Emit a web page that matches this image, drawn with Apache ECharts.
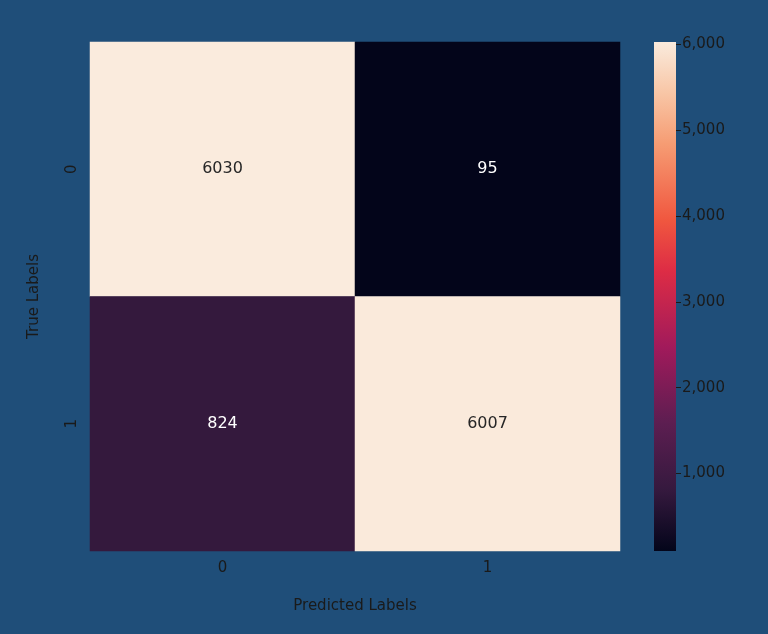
<!DOCTYPE html>
<html>
<head>
<meta charset="utf-8">
<script src="https://cdn.jsdelivr.net/npm/echarts@6/dist/echarts.min.js"></script>
<style>html,body{margin:0;background:#1f4e79;}#c{width:768px;height:634px;}</style>
</head>
<body>
<div id="c"></div>
<script>
// 混淆矩阵数据
var predLabels = ['0', '1'];
var trueLabels = ['0', '1'];
var matrix = [[6030, 95], [824, 6007]];
var barTicks = [1000, 2000, 3000, 4000, 5000, 6000];

var vmin = 95, vmax = 6030;
var stops = [
    [0, '#03051a'], [0.12, '#35193e'], [0.25, '#5c1e51'], [0.4, '#a11a5b'],
    [0.55, '#dd2c45'], [0.65, '#f0573f'], [0.8, '#f69c73'], [0.9, '#f8c6a6'], [1, '#faebdd']
];

var cells = [];
for (var i = 0; i < trueLabels.length; i++) {
    for (var j = 0; j < predLabels.length; j++) {
        cells.push([j, i, matrix[i][j]]);
    }
}

var txt = '#1a1a1a';
var font = 'DejaVu Sans';
var myChart = echarts.init(document.getElementById('c'));
option = {
    backgroundColor: '#1f4e79',
    textStyle: {fontFamily: font},
    grid: [
        {left: 90, right: 148, top: 42, bottom: 83},
        {left: 654, width: 22, top: 42, bottom: 83}
    ],
    xAxis: [{
        type: 'category', data: predLabels, gridIndex: 0,
        name: 'Predicted Labels', nameLocation: 'middle', nameGap: 48,
        nameTextStyle: {color: txt, fontSize: 15, fontFamily: font},
        axisLine: {show: false}, splitLine: {show: false},
        axisTick: {alignWithLabel: true, length: 5, lineStyle: {color: txt}},
        axisLabel: {color: txt, fontSize: 15, margin: 10}
    }, {
        type: 'category', data: [''], gridIndex: 1, show: false
    }],
    yAxis: [{
        type: 'category', data: trueLabels, inverse: true, gridIndex: 0,
        name: 'True Labels', nameLocation: 'middle', nameGap: 48, nameRotate: 90,
        nameTextStyle: {color: txt, fontSize: 15, fontFamily: font},
        axisLine: {show: false}, splitLine: {show: false},
        axisTick: {alignWithLabel: true, length: 5, lineStyle: {color: txt}},
        axisLabel: {color: txt, fontSize: 15, rotate: 90, margin: 10}
    }, {
        type: 'value', gridIndex: 1, position: 'right', min: vmin, max: vmax,
        axisLine: {show: false}, splitLine: {show: false},
        axisTick: {show: true, length: 5, customValues: barTicks, lineStyle: {color: txt}},
        axisLabel: {color: txt, fontSize: 15, margin: 6, customValues: barTicks}
    }],
    visualMap: {
        show: false, min: vmin, max: vmax, seriesIndex: 0, dimension: 2,
        inRange: {color: stops.map(function (s) { return s[1]; })}
    },
    series: [{
        type: 'heatmap', data: cells, xAxisIndex: 0, yAxisIndex: 0,
        label: {
            show: true, fontSize: 16, fontFamily: font,
            color: function () { return '#fff'; },
            formatter: function (p) { return p.value[2]; },
            rich: {}
        },
        itemStyle: {borderWidth: 0}
    }, {
        type: 'bar', xAxisIndex: 1, yAxisIndex: 1, data: [vmax], barWidth: '100%',
        silent: true,
        itemStyle: {
            color: new echarts.graphic.LinearGradient(0, 1, 0, 0,
                stops.map(function (s) { return {offset: s[0], color: s[1]}; }))
        }
    }]
};
// 浅色格子用深色文字
option.series[0].data = cells.map(function (c) {
    var light = (c[2] - vmin) / (vmax - vmin) > 0.5;
    return {value: c, label: {color: light ? '#262626' : '#ffffff'}};
});
option.series[0].label.color = undefined;
myChart.setOption(option);
</script>
</body>
</html>
